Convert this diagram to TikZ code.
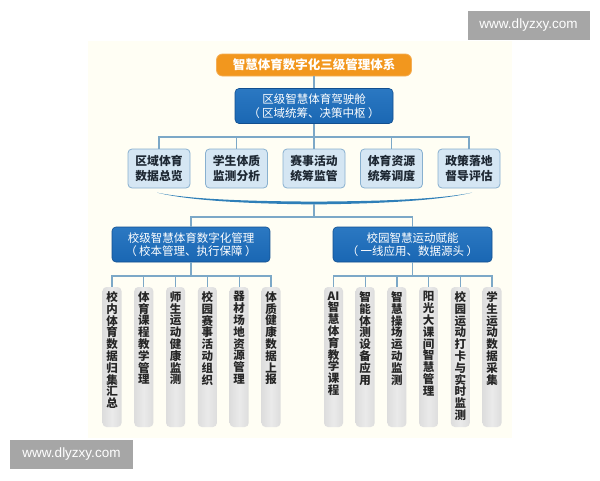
\documentclass[tikz,border=0pt]{standalone}
\usepackage{fontspec}
\setmainfont{Noto Sans CJK SC}
\newfontfamily\wmfont{Liberation Sans}
\definecolor{creamC}{HTML}{FFFEF4}
\definecolor{orangeC}{HTML}{F2971E}
\definecolor{orangeD}{HTML}{F4AE55}
\definecolor{blueC}{HTML}{1A67B3}
\definecolor{blueT}{HTML}{2B78C2}
\definecolor{blueD}{HTML}{124F8F}
\definecolor{midF}{HTML}{D5E6F3}
\definecolor{midD}{HTML}{88B0CF}
\definecolor{lineC}{HTML}{7CA8C7}
\definecolor{braceC}{HTML}{2F7FB8}
\definecolor{leafE}{HTML}{DDDDDD}
\definecolor{leafM}{HTML}{EAEAEA}
\definecolor{darkT}{HTML}{1E2833}
\definecolor{leafT}{HTML}{262626}
\definecolor{wmC}{HTML}{A6A6A6}
\tikzset{
  orangebox/.style={rounded corners=6pt, fill=orangeC, draw=orangeD, line width=0.8pt,
    minimum width=195pt, minimum height=22pt, text=white, font=\fontsize{12.5}{14}\selectfont\bfseries, inner sep=0pt},
  bluebox/.style={rounded corners=4pt, top color=blueT, bottom color=blueC, draw=blueD, line width=0.6pt,
    minimum height=35pt, text=white, font=\fontsize{11.5}{13.5}\selectfont, align=center, inner sep=0pt},
  midbox/.style={rounded corners=4pt, fill=midF, draw=midD, line width=0.8pt,
    minimum width=62pt, minimum height=39pt, text=darkT, font=\fontsize{11.8}{14.5}\selectfont\bfseries, align=center, inner sep=0pt},
  leafbox/.style={rounded corners=4pt, left color=leafE, right color=leafE, middle color=leafM, draw=none,
    minimum width=19pt, minimum height=140pt, inner sep=0pt},
  leaftext/.style={anchor=north, text=leafT, font=\fontsize{11.5}{11.8}\selectfont\bfseries, align=center, inner sep=0pt},
  conn/.style={draw=lineC, line width=1.3pt},
  wmbox/.style={fill=wmC, text=white, font=\wmfont\fontsize{13.5}{15}\selectfont, inner sep=0pt, minimum height=29pt},
}
\newcommand\pl{（\hspace{2.5pt}}
\newcommand\pr{\hspace{2.5pt}）}
\begin{document}
\begin{tikzpicture}[x=1pt,y=-1pt]
\useasboundingbox (0,0) rectangle (600,480);
\fill[white] (0,0) rectangle (600,480);
\fill[creamC] (88,41) rectangle (512,438);

% watermarks
\node[wmbox, minimum width=122pt] (wm1) at (528.5,25) {www.dlyzxy.com};
\node[wmbox, minimum width=123pt] (wm2) at (71.5,454.5) {www.dlyzxy.com};

% top
\node[orangebox] (top) at (314,65) {智慧体育数字化三级管理体系};
\node[bluebox, minimum width=158pt] (dist) at (314,106) {区级智慧体育驾驶舱\\\pl 区域统筹、决策中枢\pr};

% middle row
\node[midbox] (m1) at (159,168.5) {区域体育\\数据总览};
\node[midbox] (m2) at (236.5,168.5) {学生体质\\监测分析};
\node[midbox] (m3) at (314,168.5) {赛事活动\\统筹监管};
\node[midbox] (m4) at (391.5,168.5) {体育资源\\统筹调度};
\node[midbox] (m5) at (469,168.5) {政策落地\\督导评估};

\coordinate (busA) at (314,137);
\draw[conn] (top.south) -- (dist.north);
\draw[conn] (dist.south) -- (busA);
\draw[conn] (m1.north) |- (busA) -| (m5.north);
\foreach \m in {m2,m3,m4} \draw[conn] (\m.north) -- (\m.north |- busA);

% brace
\coordinate (braceM) at (314,203.5);
\fill[braceC] (157,192.6) .. controls (190,199.5) and (250,201.2) .. (314,201.6)
  .. controls (378,201.2) and (438,199.5) .. (472,192.6)
  .. controls (440,200.5) and (380,203.8) .. (314,204.4)
  .. controls (248,203.8) and (188,200.5) .. (157,192.6) -- cycle;

% second level
\node[bluebox, minimum width=158pt] (L) at (191,244.5) {校级智慧体育数字化管理\\\pl 校本管理、执行保障\pr};
\node[bluebox, minimum width=159pt] (R) at (412.5,244.5) {校园智慧运动赋能\\\pl 一线应用、数据源头\pr};

\coordinate (busB) at (314,217);
\draw[conn] (braceM) -- (busB);
\draw[conn] (L.north) |- (busB) -| (R.north);

% leaves left
\node[leafbox] (a1) at (112,357) {};
\node[leafbox] (a2) at (143.8,357) {};
\node[leafbox] (a3) at (175.6,357) {};
\node[leafbox] (a4) at (207.4,357) {};
\node[leafbox] (a5) at (239.2,357) {};
\node[leafbox] (a6) at (271,357) {};
\node[leaftext] (ta1) at ([yshift=-4.5pt]a1.north) {校\\内\\体\\育\\数\\据\\归\\集\\汇\\总};
\node[leaftext] (ta2) at ([yshift=-4.5pt]a2.north) {体\\育\\课\\程\\教\\学\\管\\理};
\node[leaftext] (ta3) at ([yshift=-4.5pt]a3.north) {师\\生\\运\\动\\健\\康\\监\\测};
\node[leaftext] (ta4) at ([yshift=-4.5pt]a4.north) {校\\园\\赛\\事\\活\\动\\组\\织};
\node[leaftext] (ta5) at ([yshift=-4.5pt]a5.north) {器\\材\\场\\地\\资\\源\\管\\理};
\node[leaftext] (ta6) at ([yshift=-4.5pt]a6.north) {体\\质\\健\\康\\数\\据\\上\\报};

% leaves right
\node[leafbox] (b1) at (333.5,357) {};
\node[leafbox] (b2) at (365.2,357) {};
\node[leafbox] (b3) at (396.9,357) {};
\node[leafbox] (b4) at (428.6,357) {};
\node[leafbox] (b5) at (460.3,357) {};
\node[leafbox] (b6) at (492,357) {};
\node[leaftext] (tb1) at ([yshift=-4.5pt]b1.north) {AI\\智\\慧\\体\\育\\教\\学\\课\\程};
\node[leaftext] (tb2) at ([yshift=-4.5pt]b2.north) {智\\能\\体\\测\\设\\备\\应\\用};
\node[leaftext] (tb3) at ([yshift=-4.5pt]b3.north) {智\\慧\\操\\场\\运\\动\\监\\测};
\node[leaftext] (tb4) at ([yshift=-4.5pt]b4.north) {阳\\光\\大\\课\\间\\智\\慧\\管\\理};
\node[leaftext] (tb5) at ([yshift=-4.5pt]b5.north) {校\\园\\运\\动\\打\\卡\\与\\实\\时\\监\\测};
\node[leaftext] (tb6) at ([yshift=-4.5pt]b6.north) {学\\生\\运\\动\\数\\据\\采\\集};

\coordinate (busL) at (191,276);
\coordinate (busR) at (412.5,276);
\draw[conn] (L.south) -- (busL);
\draw[conn] (a1.north) |- (busL) -| (a6.north);
\foreach \a in {a2,a3,a4,a5} \draw[conn] (\a.north) -- (\a.north |- busL);
\draw[conn] (R.south) -- (busR);
\draw[conn] (b1.north) |- (busR) -| (b6.north);
\foreach \b in {b2,b3,b4,b5} \draw[conn] (\b.north) -- (\b.north |- busR);
\end{tikzpicture}
\end{document}
